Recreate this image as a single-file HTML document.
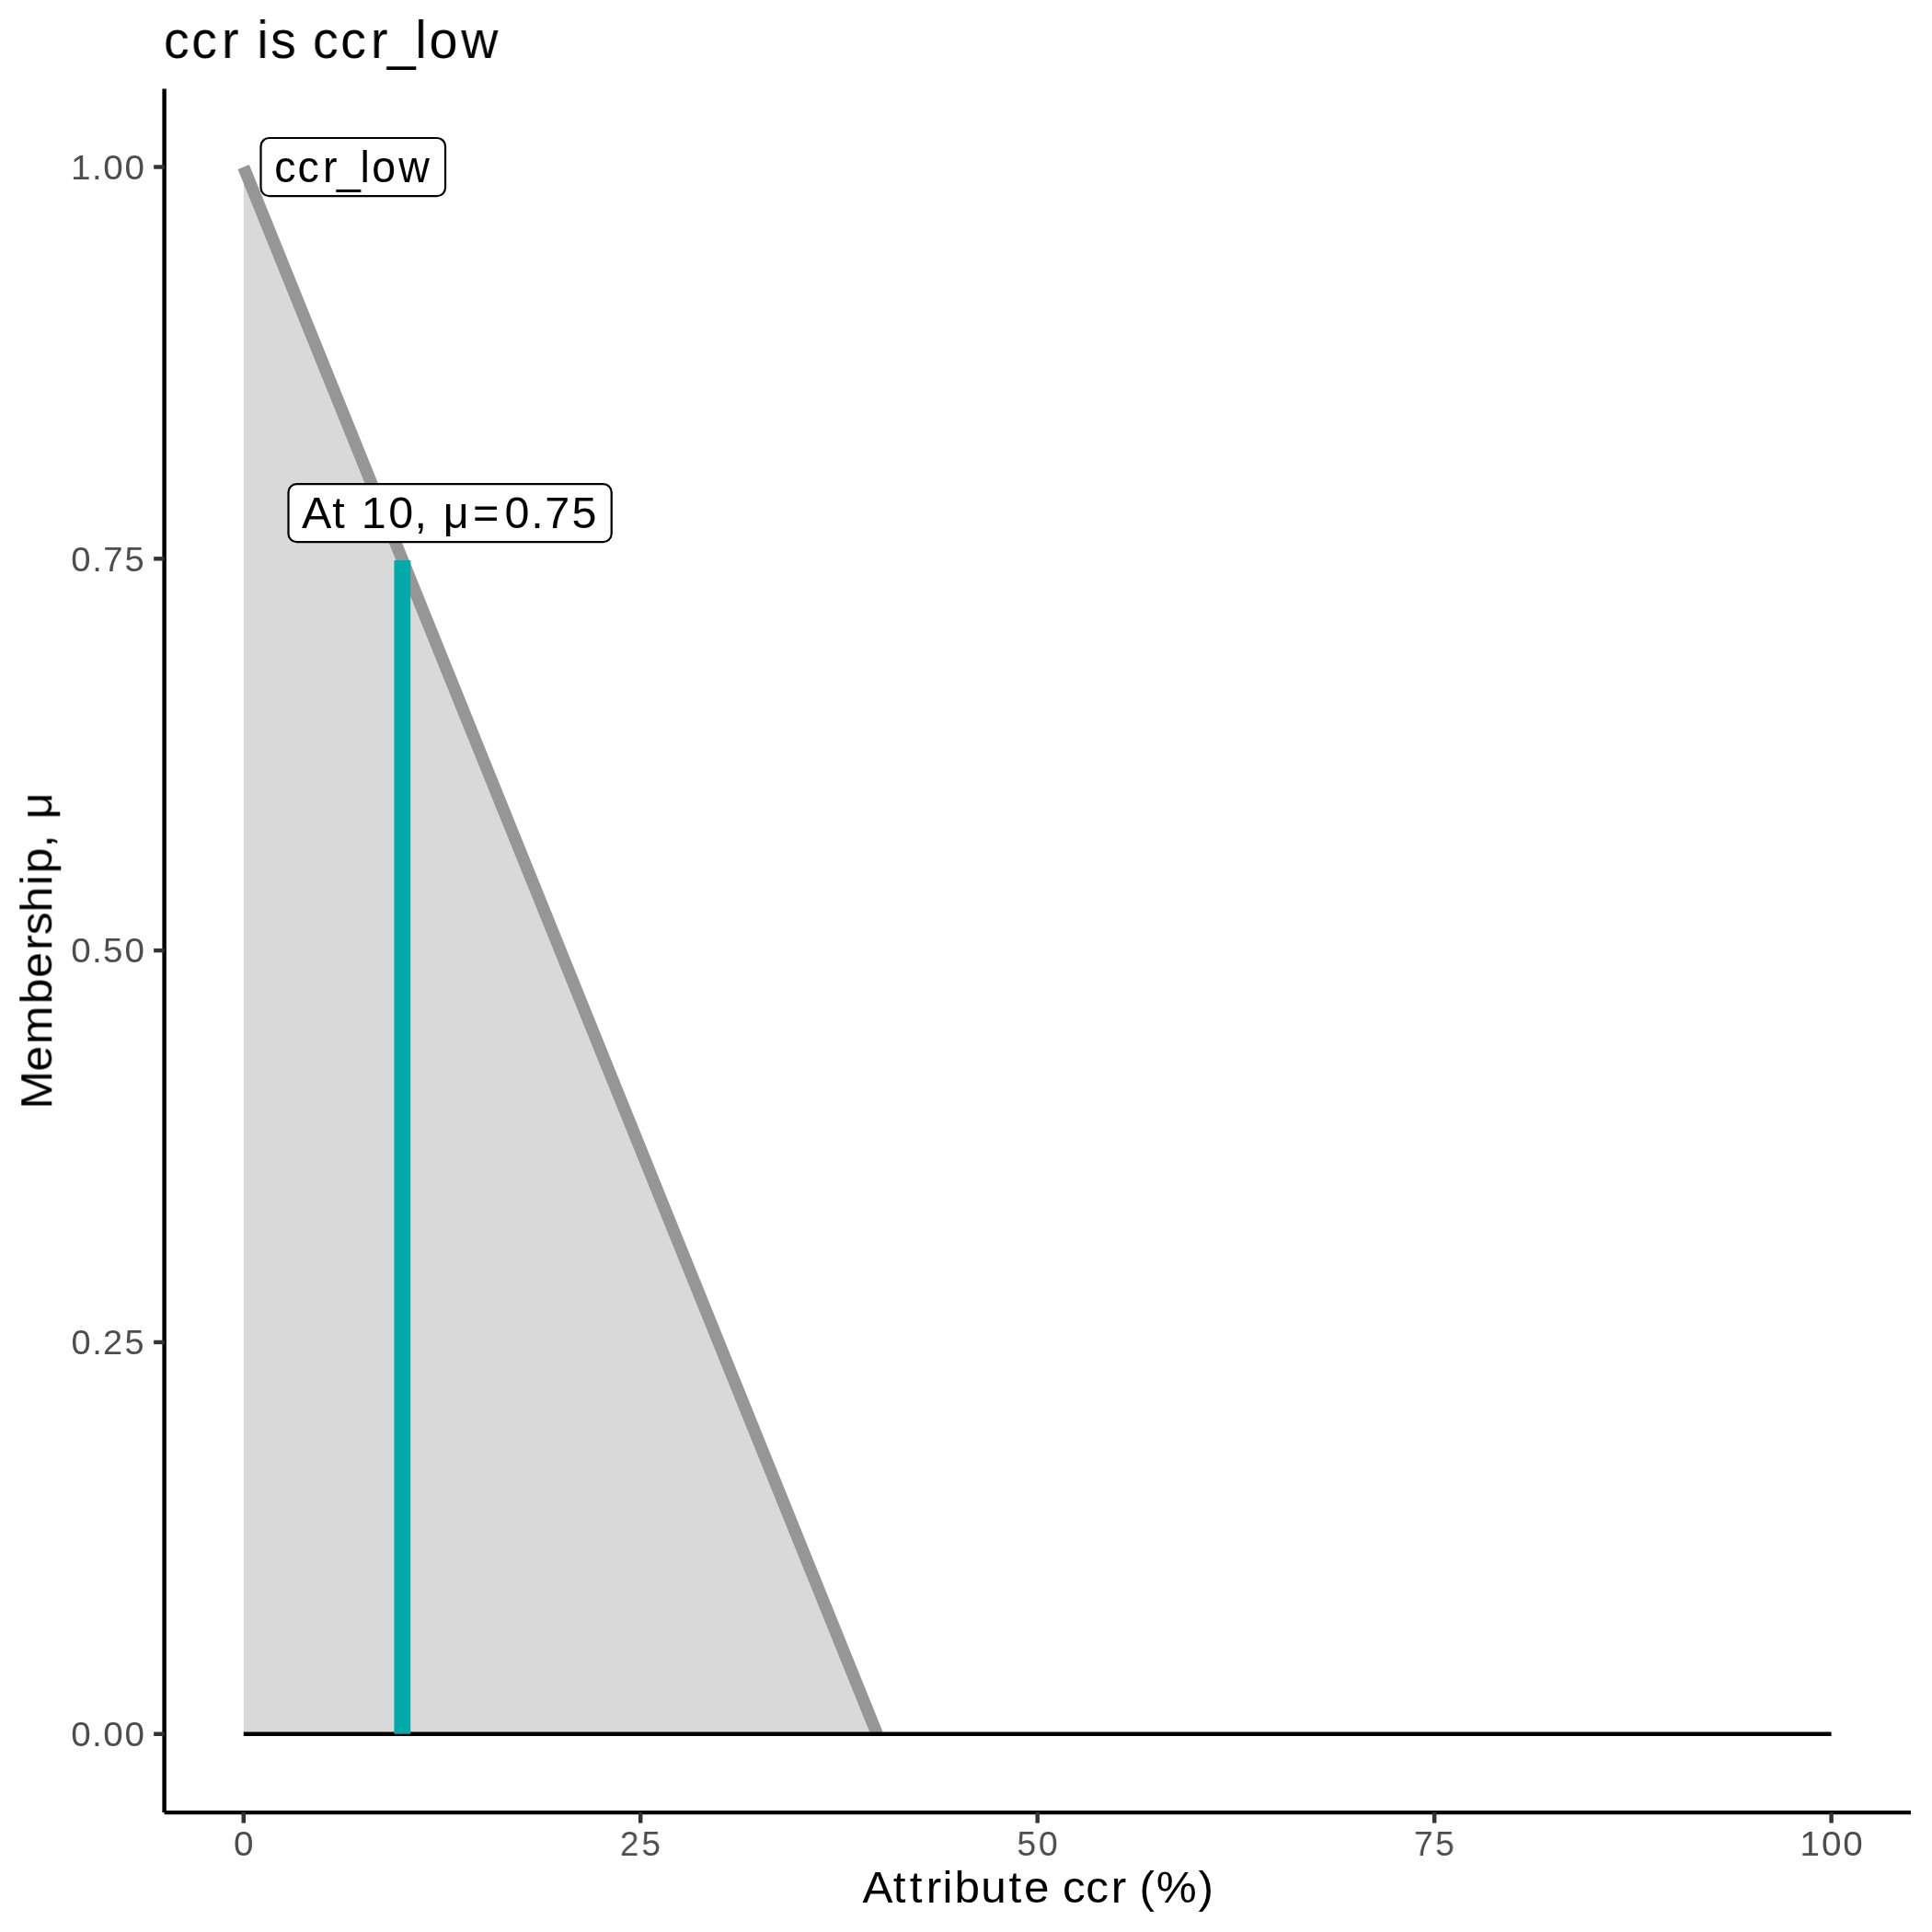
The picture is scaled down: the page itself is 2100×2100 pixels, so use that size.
<!DOCTYPE html>
<html lang="en"><head><meta charset="utf-8"><title>ccr is ccr_low</title>
<style>
html,body{margin:0;padding:0;background:#ffffff;}
body{width:2100px;height:2100px;overflow:hidden;font-family:"Liberation Sans", sans-serif;}
svg{display:block;}
svg text{font-family:"Liberation Sans", sans-serif;white-space:pre;}
svg{will-change:transform;}
.txt{filter:url(#flat);}
</style></head><body>
<svg width="2100" height="2100" viewBox="0 0 2100 2100">
<defs><filter id="flat" filterUnits="userSpaceOnUse" x="0" y="0" width="2100" height="2100"><feOffset dx="0" dy="0"/></filter></defs>
<rect x="0" y="0" width="2100" height="2100" fill="#ffffff"/>
<polygon points="264.75,181.50 953.30,1884.75 264.75,1884.75" fill="#D9D9D9"/>
<line x1="264.75" y1="181.50" x2="953.30" y2="1884.75" stroke="#969696" stroke-width="13.34" stroke-linecap="butt"/>
<line x1="264.75" y1="1884.75" x2="1990.60" y2="1884.75" stroke="#000000" stroke-width="4.45"/>
<line x1="437.34" y1="1884.75" x2="437.34" y2="609.00" stroke="#00AAAA" stroke-width="17.78"/>
<line x1="178.60" y1="96.40" x2="178.60" y2="1970.10" stroke="#000000" stroke-width="4.45"/>
<line x1="178.60" y1="1970.10" x2="2077.00" y2="1970.10" stroke="#000000" stroke-width="4.45"/>
<line x1="167.14" y1="1884.75" x2="178.60" y2="1884.75" stroke="#333333" stroke-width="4.45"/>
<line x1="167.14" y1="1458.94" x2="178.60" y2="1458.94" stroke="#333333" stroke-width="4.45"/>
<line x1="167.14" y1="1033.12" x2="178.60" y2="1033.12" stroke="#333333" stroke-width="4.45"/>
<line x1="167.14" y1="607.31" x2="178.60" y2="607.31" stroke="#333333" stroke-width="4.45"/>
<line x1="167.14" y1="181.50" x2="178.60" y2="181.50" stroke="#333333" stroke-width="4.45"/>
<line x1="264.75" y1="1970.10" x2="264.75" y2="1981.56" stroke="#333333" stroke-width="4.45"/>
<line x1="696.21" y1="1970.10" x2="696.21" y2="1981.56" stroke="#333333" stroke-width="4.45"/>
<line x1="1127.68" y1="1970.10" x2="1127.68" y2="1981.56" stroke="#333333" stroke-width="4.45"/>
<line x1="1559.14" y1="1970.10" x2="1559.14" y2="1981.56" stroke="#333333" stroke-width="4.45"/>
<line x1="1990.60" y1="1970.10" x2="1990.60" y2="1981.56" stroke="#333333" stroke-width="4.45"/>
<g class="txt">
<text transform="scale(1.0281 1)" x="75.15 97.39 109.18 131.88" y="1897.95" font-size="37.60" fill="#4D4D4D">0.00</text>
<text transform="scale(1.0095 1)" x="76.72 99.28 110.90 134.35" y="1472.14" font-size="37.60" fill="#4D4D4D">0.25</text>
<text transform="scale(1.0281 1)" x="75.15 97.39 109.04 131.88" y="1046.33" font-size="37.60" fill="#4D4D4D">0.50</text>
<text transform="scale(1.0169 1)" x="76.09 98.52 110.43 133.31" y="620.51" font-size="37.60" fill="#4D4D4D">0.75</text>
<text transform="scale(1.0281 1)" x="74.96 97.39 109.18 131.88" y="194.70" font-size="37.60" fill="#4D4D4D">1.00</text>
<text transform="scale(1.0281 1)" x="247.06" y="2016.70" font-size="37.60" fill="#4D4D4D">0</text>
<text transform="scale(0.9806 1)" x="687.14 711.28" y="2016.70" font-size="37.60" fill="#4D4D4D">25</text>
<text transform="scale(0.9992 1)" x="1106.35 1129.84" y="2016.70" font-size="37.60" fill="#4D4D4D">50</text>
<text transform="scale(0.9879 1)" x="1555.82 1579.36" y="2016.70" font-size="37.60" fill="#4D4D4D">75</text>
<text transform="scale(1.0281 1)" x="1902.91 1925.80 1948.49" y="2016.70" font-size="37.60" fill="#4D4D4D">100</text>
<text transform="scale(0.9517 1)" x="186.98 218.76 253.22 273.62 293.58 308.95 338.16 357.20 388.97 423.44 442.21 474.29 490.29 526.73" y="63.30" font-size="58.20" fill="#000000">ccr is ccr<tspan dy="1.34">_</tspan><tspan dy="-1.34">l</tspan>ow</text>
<text transform="scale(1.0294 1)" x="910.78 943.16 960.62 978.12 995.31 1007.86 1035.73 1065.22 1081.18 1108.13 1121.98 1146.46 1173.22 1189.54 1203.17 1220.87 1265.27" y="2068.00" font-size="48.00" fill="#000000">Attribute ccr (%)</text>
<text transform="translate(56.25 1204.50) rotate(-90) scale(1.0377 1)" x="-0.93 38.44 66.92 109.23 136.67 165.41 181.49 205.35 233.50 245.87 272.88 287.02 302.76" y="0" font-size="48.00" fill="#000000">Membership, μ</text>
<rect x="283.50" y="150.00" width="200.55" height="63.05" rx="9.0" ry="9.0" fill="#ffffff" stroke="#000000" stroke-width="2.22"/>
<text transform="scale(0.9686 1)" x="308.01 334.12 362.45 377.87 404.26 417.38 447.30" y="198.10" font-size="48.00" fill="#000000">ccr<tspan dy="1.23">_</tspan><tspan dy="-1.23">l</tspan>ow</text>
<rect x="313.50" y="526.05" width="351.20" height="63.15" rx="9.0" ry="9.0" fill="#ffffff" stroke="#000000" stroke-width="2.22"/>
<text transform="scale(1.0102 1)" x="324.77 357.68 373.40 388.75 417.97 445.92 460.29 476.94 508.81 543.01 571.40 586.37 615.25" y="574.10" font-size="48.00" fill="#000000">At 10, μ=0.75</text>
</g>
</svg>
</body></html>
